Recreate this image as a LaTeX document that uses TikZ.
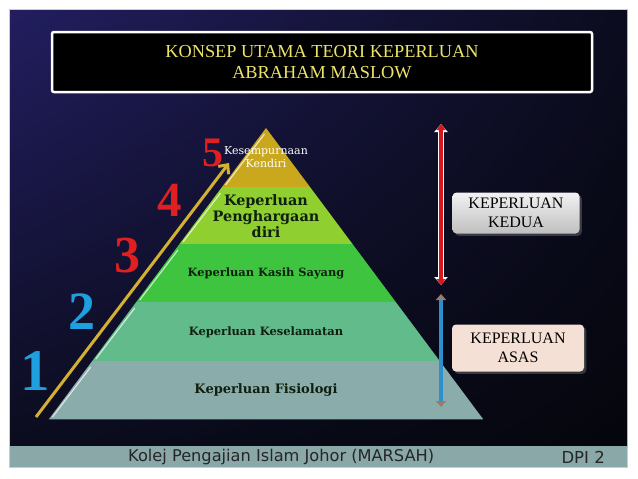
\documentclass[tikz,border=0pt]{standalone}
\usepackage{fontspec}
\setmainfont{Liberation Serif}
\newfontfamily\labelfont{DejaVu Serif}
\newfontfamily\footfont{DejaVu Sans}
\usetikzlibrary{arrows.meta,shadows,shadings}
\definecolor{slidenavy}{HTML}{221E60}
\definecolor{slidedark}{HTML}{0B0C1E}
\definecolor{slideblack}{HTML}{05060C}
\definecolor{footband}{HTML}{8AA8A8}
\definecolor{titleyellow}{HTML}{ECE46A}
\definecolor{lvfive}{HTML}{C9A81E}
\definecolor{lvfour}{HTML}{8FCF2F}
\definecolor{lvthree}{HTML}{3EC43E}
\definecolor{lvtwo}{HTML}{62BB8A}
\definecolor{lvone}{HTML}{8AACAA}
\definecolor{levtext}{HTML}{102010}
\definecolor{numblue}{HTML}{1EA0E0}
\definecolor{numred}{HTML}{E02020}
\definecolor{climbgold}{HTML}{D4B030}
\definecolor{arrowblue}{HTML}{2E8FCF}
\definecolor{arrowred}{HTML}{D8161E}
\definecolor{tipbrown}{HTML}{9A7A6A}
\definecolor{peach}{HTML}{F4E0D4}

\begin{document}
\begin{tikzpicture}[x=1pt,y=-1pt]
		\tikzstyle{level}=[font=\labelfont\bfseries, text=levtext, align=center, inner sep=0pt]
		\tikzstyle{digit}=[inner sep=0pt]
		\tikzstyle{tag}=[rounded corners=4pt, align=center, inner sep=0pt, font=\fontsize{16}{18.5}\selectfont, drop shadow={opacity=.4}]
		\useasboundingbox (0,0) rectangle (638,479);
		\fill[white] (0,0) rectangle (638,479);
		\draw[gray!40] (9.5,9.5) rectangle (627.5,467.5);
		\shade[upper left=slidenavy, upper right=slidedark, lower left=slidedark, lower right=slideblack] (10,10) rectangle (627,446);
		\fill[footband] (10,446) rectangle (627,467);
		
		\node[draw=white, line width=2.5pt, fill=black, rounded corners=2pt, minimum width=540pt, minimum height=60pt, text=titleyellow, align=center, font=\fontsize{18.3}{21.5}\selectfont](title) at (322,62) {KONSEP UTAMA TEORI KEPERLUAN\\ABRAHAM MASLOW};
		
		\foreach \ya/\yb/\col in {128/187/lvfive,187/244/lvfour,244/302/lvthree,302/361/lvtwo,361/419/lvone}{
			\pgfmathsetmacro\topl{266-0.7457*(\ya-128)}
			\pgfmathsetmacro\topr{266+0.7457*(\ya-128)}
			\pgfmathsetmacro\botl{266-0.7457*(\yb-128)}
			\pgfmathsetmacro\botr{266+0.7457*(\yb-128)}
			\fill[\col] (\topl,\ya) -- (\topr,\ya) -- (\botr,\yb) -- (\botl,\yb) -- cycle;
			\draw[white, opacity=.7, line width=1.2pt] (\botl+3.5,\yb-2) -- (\topl-1.5,\ya+6);
			\draw[black!75, line width=.8pt] (\botl,\yb) -- (\botr,\yb);
		}
		
		\node[level, text=white, font=\labelfont\fontsize{11}{13}\selectfont](l-5) at (266,157) {Kesempurnaan\\Kendiri};
		\node[level, font=\labelfont\bfseries\fontsize{14.4}{16}\selectfont](l-4) at (266,216) {Keperluan\\Penghargaan\\diri};
		\node[level, font=\labelfont\bfseries\fontsize{11.4}{13}\selectfont](l-3) at (266,273) {Keperluan Kasih Sayang};
		\node[level, font=\labelfont\bfseries\fontsize{11.5}{13}\selectfont](l-2) at (266,332) {Keperluan Keselamatan};
		\node[level, font=\labelfont\bfseries\fontsize{13}{15}\selectfont](l-1) at (266,390) {Keperluan Fisiologi};
		
		\coordinate (climb-start) at (36,417);
		\coordinate (climb-end) at (229,163);
		\draw[climbgold, line width=3pt, -{Straight Barb[length=7pt,width=13pt]}] (climb-start) -- (climb-end);
		
		\node[digit, text=numblue, font=\bfseries\fontsize{59}{59}\selectfont](n-1) at (35,371) {1};
		\node[digit, text=numblue, font=\bfseries\fontsize{54}{54}\selectfont](n-2) at (82,312) {2};
		\node[digit, text=numred, font=\bfseries\fontsize{52}{52}\selectfont](n-3) at (127,256) {3};
		\node[digit, text=numred, font=\bfseries\fontsize{49}{49}\selectfont](n-4) at (170,200) {4};
		\node[digit, text=numred, font=\bfseries\fontsize{42}{42}\selectfont](n-5) at (213,153) {5};
		
		\coordinate (kedua-top) at (441,124);
		\coordinate (kedua-bot) at (441,285);
		\coordinate (asas-top) at (441,294);
		\coordinate (asas-bot) at (441,407);
		\draw[white, line width=6pt, {Triangle[length=8pt,width=13pt]}-{Triangle[length=8pt,width=13pt]}] (kedua-top) -- (kedua-bot);
		\draw[arrowred, line width=3.5pt, {Triangle[length=6pt,width=9pt]}-{Triangle[length=6pt,width=9pt]}] (kedua-top) -- (kedua-bot);
		\draw[arrowblue, line width=4pt, {Triangle[length=6pt,width=10pt,color=tipbrown]}-{Triangle[length=6pt,width=10pt,color=tipbrown]}] (asas-top) -- (asas-bot);
		
		\node[tag, top color=gray!10, bottom color=gray!50, minimum width=127pt, minimum height=41pt](kedua) at (516,213) {KEPERLUAN\\KEDUA};
		\node[tag, fill=peach, minimum width=132pt, minimum height=47pt](asas) at (518,348) {KEPERLUAN\\ASAS};
		
		\node[font=\footfont\fontsize{16.2}{18}\selectfont, text=black!85, anchor=west, inner sep=0pt](college) at (128,457) {Kolej Pengajian Islam Johor (MARSAH)};
		\node[font=\footfont\fontsize{16.5}{18}\selectfont, text=black!85, anchor=east, inner sep=0pt](page) at (605,457) {DPI 2};
\end{tikzpicture}
\end{document}
